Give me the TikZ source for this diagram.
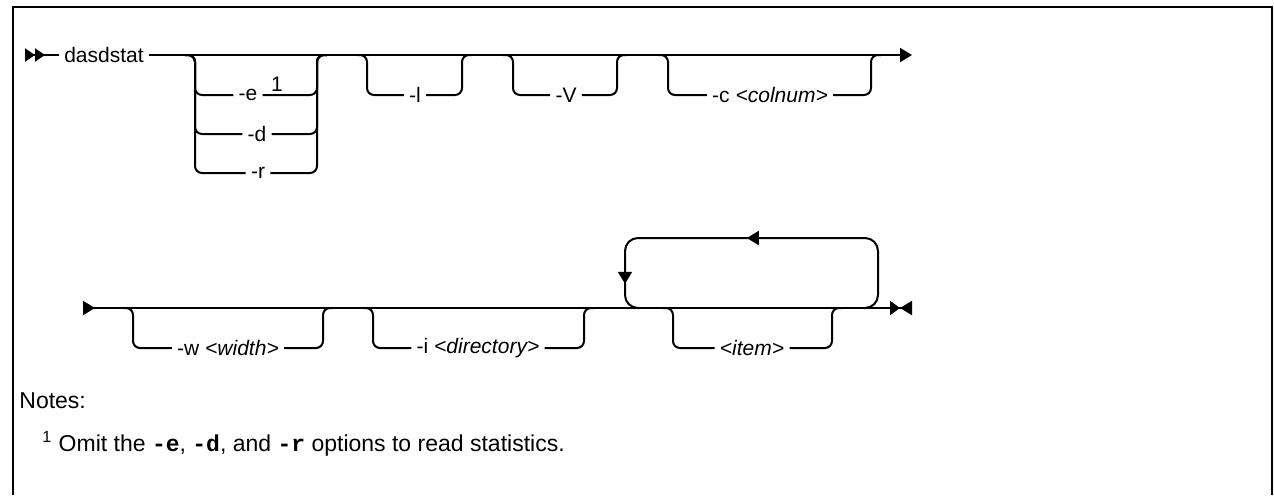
\documentclass[tikz,border=0pt]{standalone}
\usepackage{fontspec}
\setmainfont{Liberation Sans}
\setmonofont{Liberation Mono}
\usetikzlibrary{arrows.meta,decorations.markings}

\begin{document}
\begin{tikzpicture}[x=0.5pt,y=-0.5pt,
    rail/.style={line width=1pt, rounded corners=3.5pt},
    opt/.style={inner sep=2.5pt, font=\fontsize{10.5}{12}\selectfont},
    note/.style={anchor=west, inner sep=0pt, font=\fontsize{11.5}{13}\selectfont}]
    \useasboundingbox (0,0) rectangle (1274,495);

    % frame
    \draw[line width=1.2pt] (13,495) |- (1272,7) -- (1272,495);

    % first line
    \node[opt] (cmd) at (104,55) {dasdstat};
    \coordinate (start1) at (25,55);
    \coordinate (end1) at (912,55);
    \draw[line width=1pt, {Triangle[reversed,length=5pt,width=6.5pt]Triangle[reversed,length=5pt,width=6.5pt]}-] (start1) -- (cmd.west);
    \draw[line width=1pt, -{Triangle[length=6pt,width=7pt]}] (cmd.east) -- (end1);

    % -e / -d / -r
    \node[opt] (e) at (248,95) {-e};
    \node[opt] (enote) at (277,84) {1};
    \node[opt] (d) at (257,134) {-d};
    \node[opt] (r) at (258,173) {-r};
    \coordinate (ein) at (195,55);
    \coordinate (eout) at (317,55);
    \draw[rail] ([xshift=-5pt]ein) -| (ein |- e.west) -- (e.west);
    \draw[rail] (e.east) -| (eout) -- ([xshift=5pt]eout);
    \draw[rail] ([xshift=-5pt]ein) -| (ein |- d.west) -- (d.west);
    \draw[rail] (d.east) -| (eout) -- ([xshift=5pt]eout);
    \draw[rail] ([xshift=-5pt]ein) -| (ein |- r.west) -- (r.west);
    \draw[rail] (r.east) -| (eout) -- ([xshift=5pt]eout);

    % -l
    \node[opt] (l) at (415,95) {-l};
    \coordinate (lin) at (367,55);
    \coordinate (lout) at (462,55);
    \draw[rail] ([xshift=-5pt]lin) -| (lin |- l.west) -- (l.west);
    \draw[rail] (l.east) -| (lout) -- ([xshift=5pt]lout);

    % -V
    \node[opt] (v) at (566,95) {-V};
    \coordinate (vin) at (513,55);
    \coordinate (vout) at (617,55);
    \draw[rail] ([xshift=-5pt]vin) -| (vin |- v.west) -- (v.west);
    \draw[rail] (v.east) -| (vout) -- ([xshift=5pt]vout);

    % -c
    \node[opt] (c) at (770,95) {-c \textit{<colnum>}};
    \coordinate (cin) at (668,55);
    \coordinate (cout) at (871,55);
    \draw[rail] ([xshift=-5pt]cin) -| (cin |- c.west) -- (c.west);
    \draw[rail] (c.east) -| (cout) -- ([xshift=5pt]cout);

    % second line
    \coordinate (start2) at (83,308);
    \coordinate (end2) at (912,308);
    \draw[line width=1pt, {Triangle[reversed,length=6pt,width=7pt]}-{Triangle[length=5pt,width=7pt]Triangle[reversed,length=6pt,width=7pt]}] (start2) -- (end2);

    % -w
    \node[opt] (w) at (228,348) {-w \textit{<width>}};
    \coordinate (win) at (133,308);
    \coordinate (wout) at (323,308);
    \draw[rail] ([xshift=-5pt]win) -| (win |- w.west) -- (w.west);
    \draw[rail] (w.east) -| (wout) -- ([xshift=5pt]wout);

    % -i
    \node[opt] (i) at (478,348) {-i \textit{<directory>}};
    \coordinate (iin) at (373,308);
    \coordinate (iout) at (584,308);
    \draw[rail] ([xshift=-5pt]iin) -| (iin |- i.west) -- (i.west);
    \draw[rail] (i.east) -| (iout) -- ([xshift=5pt]iout);

    % <item> with repeat loop
    \node[opt] (item) at (752,348) {\textit{<item>}};
    \coordinate (itin) at (673,308);
    \coordinate (itout) at (832,308);
    \draw[rail] ([xshift=-5pt]itin) -| (itin |- item.west) -- (item.west);
    \draw[rail] (item.east) -| (itout) -- ([xshift=5pt]itout);

    \coordinate (rep) at (878,308);
    \coordinate (back) at (625,308);
    \coordinate (loopR) at (878,238);
    \coordinate (loopL) at (625,238);
    \draw[line width=1pt, rounded corners=6.5pt,
      postaction={decorate},
      decoration={markings,
        mark=at position 102pt with {\arrow{Triangle[length=6pt,width=7pt]}},
        mark=at position 183pt with {\arrow{Triangle[length=6pt,width=7pt]}}}]
      ([xshift=-7pt]rep) -- (rep) -- (loopR) -- (loopL) -- (back) -- ([xshift=7pt]back);

    % notes
    \node[note] (notes) at (19,401) {Notes:};
    \node[note] (fn) at (42,444) {\textsuperscript{1} Omit the \textbf{\texttt{-e}}, \textbf{\texttt{-d}}, and \textbf{\texttt{-r}} options to read statistics.};
  \end{tikzpicture}
\end{document}
